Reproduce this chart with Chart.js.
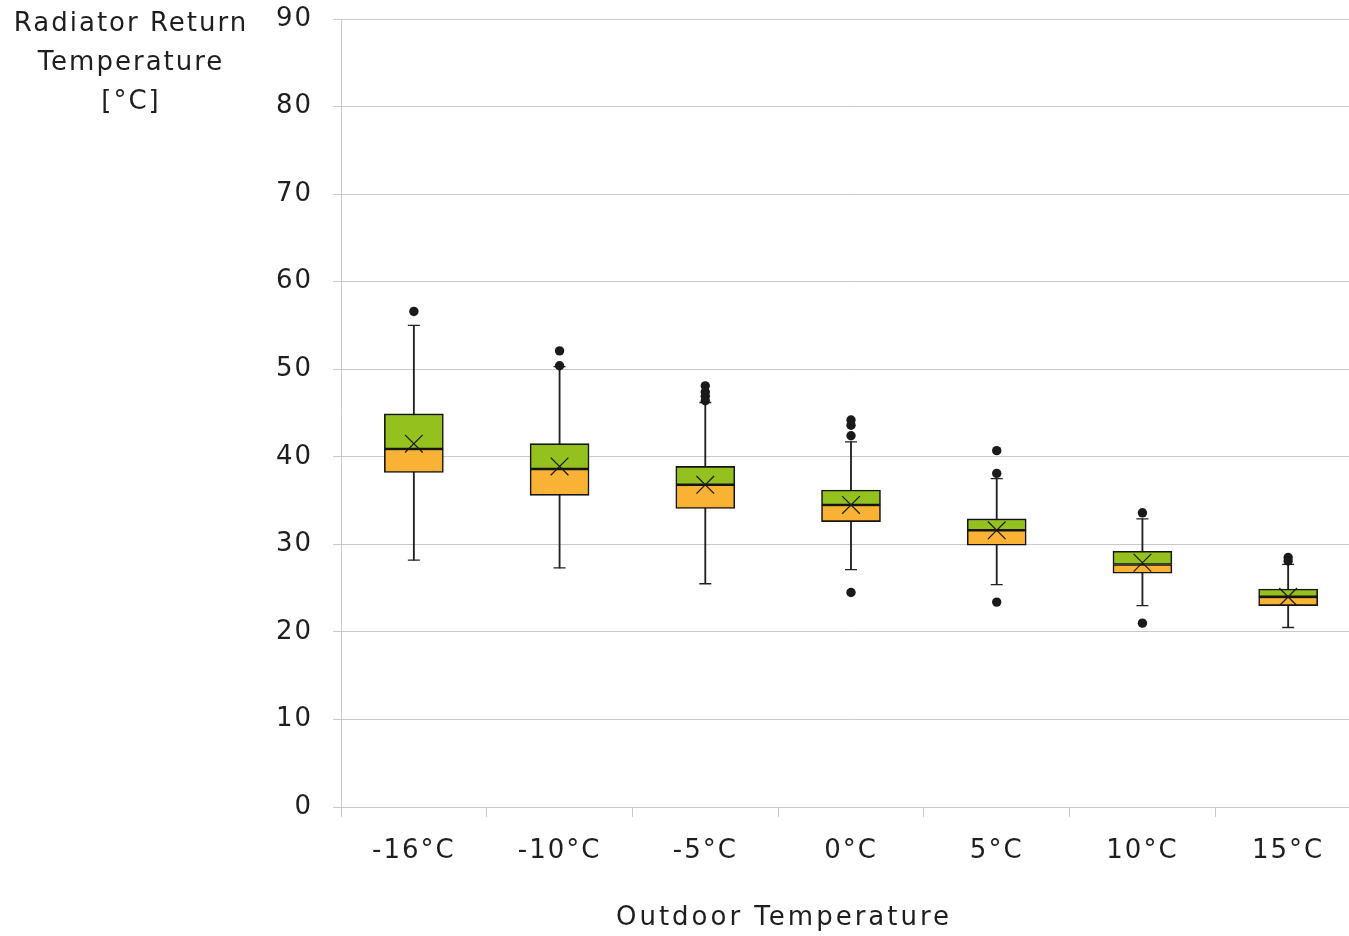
<!DOCTYPE html>
<html>
<head>
<meta charset="utf-8">
<script src="https://cdn.jsdelivr.net/npm/chart.js@4.4.1/dist/chart.umd.min.js"></script>
<style>
  html, body { margin: 0; padding: 0; background: #fff; overflow: hidden; }
  canvas { display: block; }
</style>
</head>
<body>
<canvas id="c" width="1361" height="936" style="width:1361px;height:936px"></canvas>
<script>
// ---- data ----
const categories = ['-16°C', '-10°C', '-5°C', '0°C', '5°C', '10°C', '15°C'];
const whiskerLow = [28.2, 27.3, 25.5, 27.1, 25.4, 23.0, 20.5];
const q1 = [38.2, 35.6, 34.1, 32.6, 29.9, 26.7, 23.0];
const median = [40.9, 38.6, 36.8, 34.5, 31.6, 27.7, 24.0];
const q3 = [44.9, 41.5, 38.9, 36.2, 32.9, 29.2, 24.9];
const whiskerHigh = [55.0, 50.3, 46.2, 41.7, 37.5, 32.9, 27.7];
const mean = [41.5, 38.9, 36.8, 34.5, 31.6, 27.9, 24.0];
const outliers = [
  [56.6],
  [52.1, 50.4],
  [48.1, 47.4, 46.9, 46.4],
  [44.2, 43.6, 42.4, 24.5],
  [40.7, 38.1, 23.4],
  [33.6, 21.0],
  [28.5, 28.1]
];
const yTitleLines = ['Radiator Return', 'Temperature', '[°C]'];
const xTitle = 'Outdoor Temperature';

// ---- styles ----
const FONT = 'DejaVu Sans';
const TXT = '#1e1e1e';
const GRID = '#c9c9c9';

const outlierPoints = [];
outliers.forEach((vals, i) => vals.forEach(v => outlierPoints.push({ x: categories[i], y: v })));

const spacingPlugin = {
  id: 'spacing',
  beforeDraw(chart) { chart.ctx.letterSpacing = '2px'; }
};

const titlesPlugin = {
  id: 'titles',
  afterDraw(chart) {
    const ctx = chart.ctx;
    ctx.save();
    ctx.fillStyle = TXT;
    ctx.font = '26px "' + FONT + '"';
    ctx.textAlign = 'center';
    ctx.textBaseline = 'middle';
    ctx.letterSpacing = '2px';
    yTitleLines.forEach((t, i) => ctx.fillText(t, 131, 24 + i * 39));
    ctx.letterSpacing = '3px';
    ctx.fillText(xTitle, 784, 918);
    ctx.restore();
  }
};

new Chart(document.getElementById('c'), {
  type: 'bar',
  data: {
    labels: categories,
    datasets: [
      {
        label: 'whisker',
        data: categories.map((c, i) => [whiskerLow[i], whiskerHigh[i]]),
        backgroundColor: '#222222',
        barThickness: 1.2,
        grouped: false,
        order: 5
      },
      {
        label: 'lower box',
        data: categories.map((c, i) => [q1[i], median[i]]),
        backgroundColor: '#F9B233',
        borderColor: '#151515',
        borderWidth: 1.6,
        borderSkipped: false,
        barThickness: 59,
        grouped: false,
        order: 4
      },
      {
        label: 'upper box',
        data: categories.map((c, i) => [median[i], q3[i]]),
        backgroundColor: '#95C11F',
        borderColor: '#151515',
        borderWidth: 1.6,
        borderSkipped: false,
        barThickness: 59,
        grouped: false,
        order: 3
      },
      {
        type: 'line',
        label: 'cap high',
        data: whiskerHigh,
        showLine: false,
        pointStyle: 'line',
        pointRadius: 6,
        pointBorderWidth: 1.3,
        pointBorderColor: '#222222',
        order: 2
      },
      {
        type: 'line',
        label: 'cap low',
        data: whiskerLow,
        showLine: false,
        pointStyle: 'line',
        pointRadius: 6,
        pointBorderWidth: 1.3,
        pointBorderColor: '#222222',
        order: 2
      },
      {
        type: 'line',
        label: 'mean',
        data: mean,
        showLine: false,
        pointStyle: 'crossRot',
        pointRadius: 12.5,
        pointBorderWidth: 1.2,
        pointBorderColor: '#1a1a1a',
        order: 1
      },
      {
        type: 'line',
        label: 'outliers',
        data: outlierPoints,
        showLine: false,
        pointStyle: 'circle',
        pointRadius: 4.7,
        pointBackgroundColor: '#1a1a1a',
        pointBorderColor: '#1a1a1a',
        pointBorderWidth: 0,
        order: 0
      }
    ]
  },
  options: {
    responsive: false,
    maintainAspectRatio: false,
    animation: false,
    devicePixelRatio: 1,
    layout: { autoPadding: false, padding: { top: 19, left: 0, right: 0, bottom: 0 } },
    plugins: {
      legend: { display: false },
      tooltip: { enabled: false },
      title: { display: false }
    },
    scales: {
      x: {
        offset: true,
        grid: {
          display: true,
          offset: true,
          drawOnChartArea: false,
          drawTicks: true,
          tickLength: 10,
          color: GRID
        },
        border: { display: true, color: GRID },
        ticks: {
          color: TXT,
          font: { family: FONT, size: 26 },
          padding: 19,
          maxRotation: 0
        },
        afterFit(s) { s.height = 129; s.paddingLeft = 0; s.paddingRight = 0; }
      },
      y: {
        min: 0,
        max: 90,
        ticks: {
          stepSize: 10,
          color: TXT,
          font: { family: FONT, size: 26 },
          padding: 20
        },
        grid: { color: GRID, tickLength: 8, lineWidth: 1 },
        border: { display: true, color: GRID },
        afterFit(s) { s.width = 341; s.paddingTop = 0; s.paddingBottom = 0; }
      }
    }
  },
  plugins: [spacingPlugin, titlesPlugin]
});
</script>
</body>
</html>
